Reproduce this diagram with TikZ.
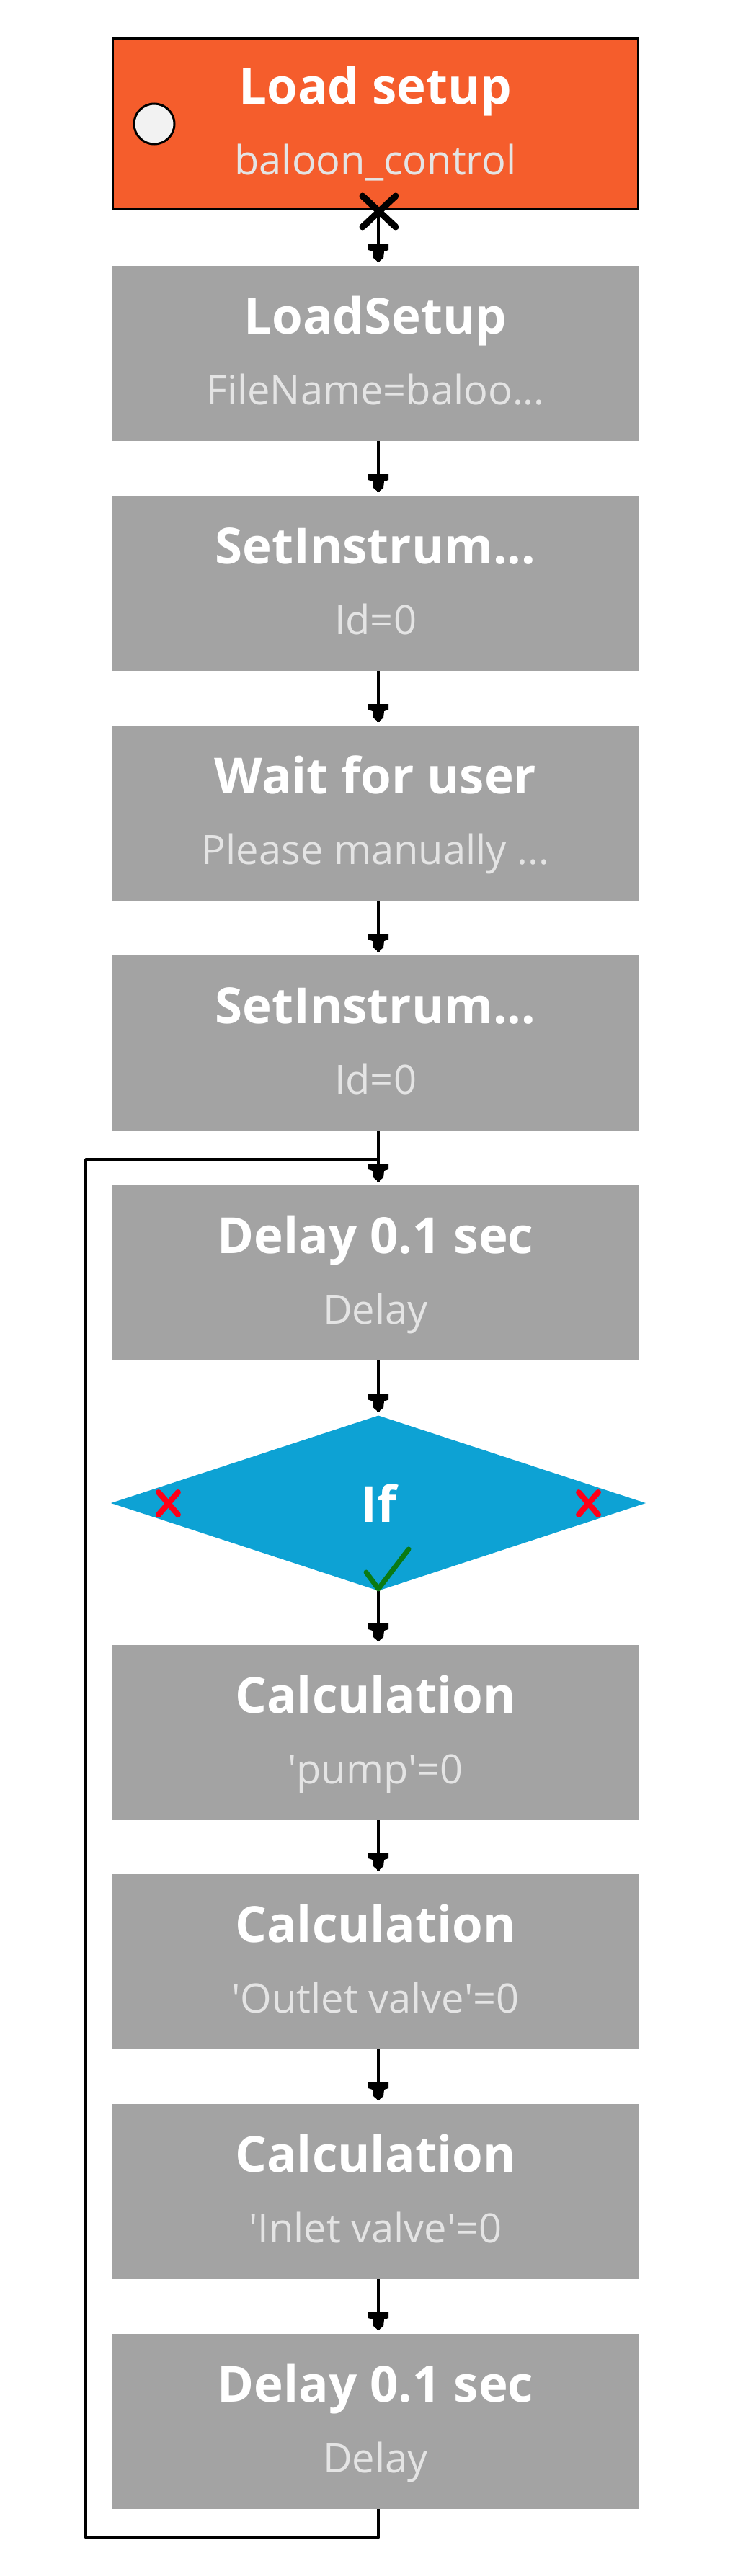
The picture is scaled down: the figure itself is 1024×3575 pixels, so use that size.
\documentclass[tikz,border=0pt]{standalone}
\usepackage{fontspec}
\setmainfont{Open Sans}
\usetikzlibrary{shapes.geometric,arrows.meta}
\pgfdeclarearrow{
  name=PxHead,
  setup code={
    \pgfarrowssettipend{0pt}
    \pgfarrowssetlineend{-5pt}
    \pgfarrowssetvisualbackend{-30pt}
    \pgfarrowssetbackend{-30pt}
    \pgfarrowshullpoint{0pt}{0pt}
    \pgfarrowshullpoint{-30pt}{14pt}
    \pgfarrowshullpoint{-30pt}{-14pt}
  },
  drawing code={
    \pgfpathmoveto{\pgfpoint{-30pt}{14pt}}
    \pgfpathlineto{\pgfpoint{-22pt}{14pt}}
    \pgfpathlineto{\pgfpoint{-20pt}{8pt}}
    \pgfpathlineto{\pgfpoint{-11pt}{7pt}}
    \pgfpathlineto{\pgfpoint{-5pt}{0pt}}
    \pgfpathlineto{\pgfpoint{-11pt}{-7pt}}
    \pgfpathlineto{\pgfpoint{-20pt}{-8pt}}
    \pgfpathlineto{\pgfpoint{-22pt}{-14pt}}
    \pgfpathlineto{\pgfpoint{-30pt}{-14pt}}
    \pgfpathclose
    \pgfusepathqfill
  }
}
\newcommand{\titlef}{\fontsize{69}{98}\selectfont\bfseries\color{white}}
\newcommand{\subf}{\fontsize{56}{98}\selectfont\mdseries\color{subtext}}
\newcommand{\steptext}[2]{\parbox{729pt}{\centering\titlef\rule[-13pt]{0pt}{70pt}#1\\\subf #2\rule[-13pt]{0pt}{13pt}\par}}
\definecolor{subtext}{HTML}{E4E4E4}
\definecolor{startfill}{HTML}{F55D2C}
\definecolor{stepfill}{HTML}{A3A3A3}
\definecolor{iffill}{HTML}{0DA2D4}
\definecolor{okgreen}{HTML}{0A7A14}
\definecolor{nored}{HTML}{FF0018}
\tikzset{
  x=1pt,y=-1pt,
  boxbase/.style={rectangle,anchor=north west,inner sep=0pt,outer sep=0pt,
    minimum width=732pt,minimum height=243pt},
  stepbox/.style={boxbase,fill=stepfill},
  startbox/.style={boxbase,fill=startfill,draw=black,line width=3.5pt,
    minimum width=729pt,minimum height=237pt},
  ifbox/.style={diamond,fill=iffill,inner sep=0pt,outer sep=0pt,aspect=3.05,
    minimum width=742pt,minimum height=243pt,font=\fontsize{69}{84}\selectfont\bfseries,text=white},
  flow/.style={draw=black,line width=3.5pt,-{PxHead}},
  plainline/.style={draw=black,line width=3.5pt},
  startdot/.style={circle,fill=black!5,draw=black,line width=3pt,inner sep=0pt,minimum size=56pt},
  bigx/.style={draw=black,line width=9pt,line cap=round},
  redx/.style={draw=nored,line width=8pt,line cap=round},
  okcheck/.style={draw=okgreen,line width=7pt,line cap=round,line join=round}
}
\begin{document}
\begin{tikzpicture}
\useasboundingbox (0,0) rectangle (1024,3575);
\fill[white] (0,0) rectangle (1024,3575);
\node[startbox] (start) at (156.5,53.5) {\steptext{Load setup}{baloon\_control}};
\node[startdot] (dot) at (214,172) {};
\node[stepbox] (s1) at (155,369) {\steptext{LoadSetup}{FileName=baloo...}};
\node[stepbox] (s2) at (155,688) {\steptext{SetInstrum...}{Id=0}};
\node[stepbox] (s3) at (155,1007) {\steptext{Wait for user}{Please manually ...}};
\node[stepbox] (s4) at (155,1326) {\steptext{SetInstrum...}{Id=0}};
\node[stepbox] (s5) at (155,1645) {\steptext{Delay 0.1 sec}{Delay}};
\node[ifbox] (cond) at (525,2086) {If};
\node[stepbox] (s6) at (155,2283) {\steptext{Calculation}{\textquotesingle pump\textquotesingle=0}};
\node[stepbox] (s7) at (155,2601) {\steptext{Calculation}{\textquotesingle Outlet valve\textquotesingle=0}};
\node[stepbox] (s8) at (155,2920) {\steptext{Calculation}{\textquotesingle Inlet valve\textquotesingle=0}};
\node[stepbox] (s9) at (155,3239) {\steptext{Delay 0.1 sec}{Delay}};
% connectors
\draw[flow] ([xshift=4pt]start.south) -- ([xshift=4pt]s1.north);
\draw[flow] ([xshift=4pt]s1.south) -- ([xshift=4pt]s2.north);
\draw[flow] ([xshift=4pt]s2.south) -- ([xshift=4pt]s3.north);
\draw[flow] ([xshift=4pt]s3.south) -- ([xshift=4pt]s4.north);
\draw[flow] ([xshift=4pt]s4.south) -- ([xshift=4pt]s5.north);
\draw[flow] ([xshift=4pt]s5.south) -- (cond.north);
\draw[flow] (cond.south) -- ([xshift=4pt]s6.north);
\draw[flow] ([xshift=4pt]s6.south) -- ([xshift=4pt]s7.north);
\draw[flow] ([xshift=4pt]s7.south) -- ([xshift=4pt]s8.north);
\draw[flow] ([xshift=4pt]s8.south) -- ([xshift=4pt]s9.north);
% loop back
\coordinate (loopLow) at (525,3522);
\coordinate (loopLeftLow) at (119,3522);
\coordinate (loopLeftHigh) at (119,1609);
\coordinate (loopHigh) at (525,1609);
\draw[plainline,line join=round] ([xshift=4pt]s9.south) -- (loopLow) -- (loopLeftLow) -- (loopLeftHigh) -- (loopHigh);
% markers
\draw[bigx] (503,272) -- (549,315);
\draw[bigx] (549,272) -- (503,315);
\draw[redx] (220,2071) -- (247,2102);
\draw[redx] (247,2071) -- (220,2102);
\draw[redx] (803,2071) -- (830,2102);
\draw[redx] (830,2071) -- (803,2102);
\draw[okcheck] (508,2182) -- (525,2205) -- (567,2150);
\end{tikzpicture}
\end{document}
